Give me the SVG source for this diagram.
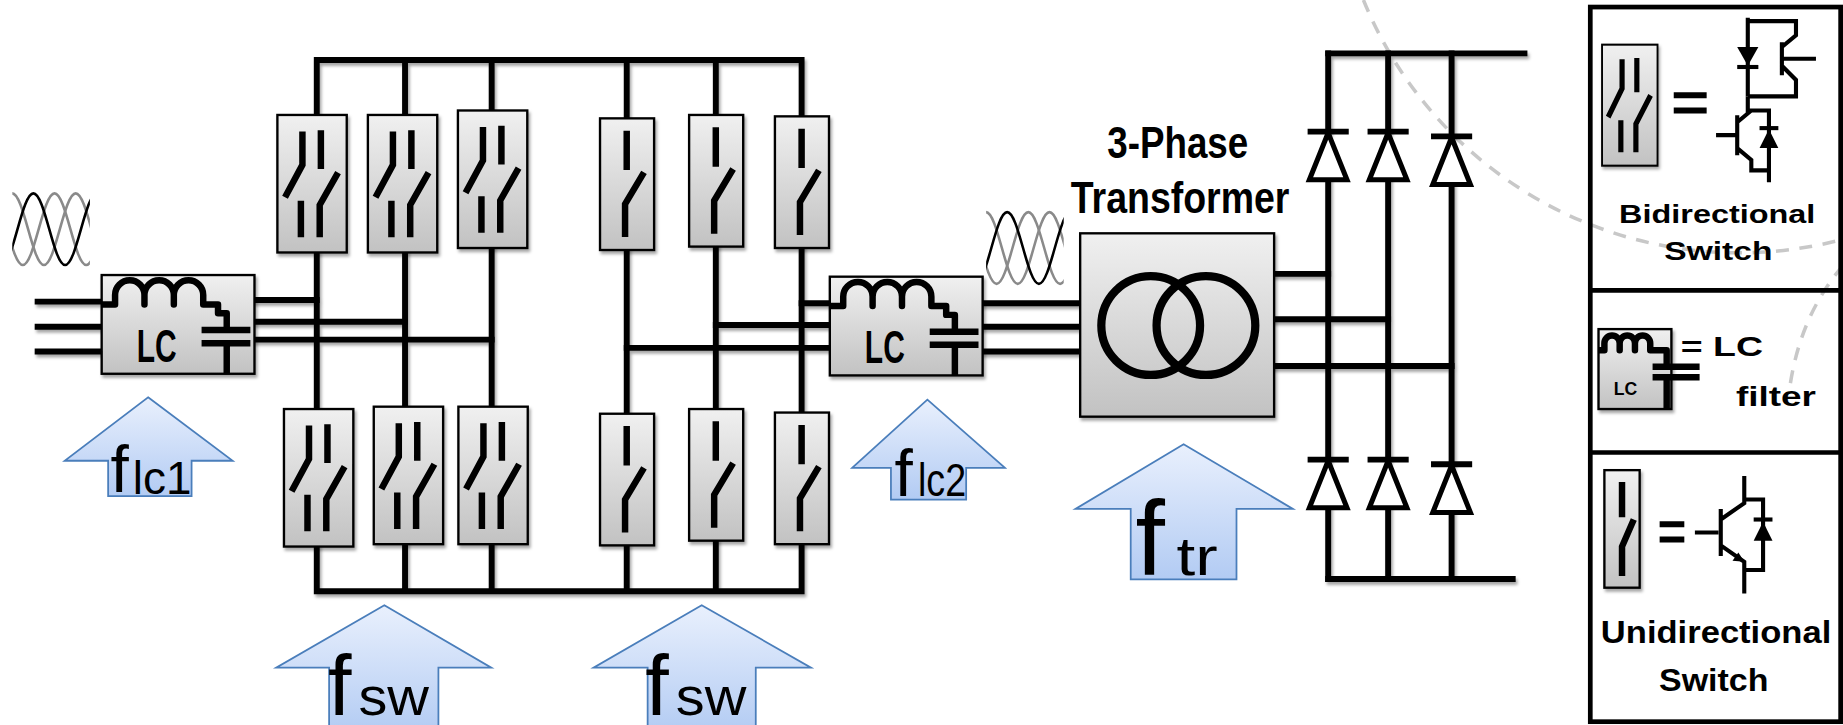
<svg xmlns="http://www.w3.org/2000/svg" width="1843" height="725" viewBox="0 0 1843 725">
<style>
.w{stroke:#000;stroke-width:5;fill:none;stroke-linecap:square}
.box{fill:url(#gBox);stroke:#000;stroke-width:2}
.bar{stroke:#000;stroke-width:5.5;fill:none;stroke-linecap:butt}
.lw{stroke:#000;stroke-width:5.5;fill:none;stroke-linejoin:round}
.arr{fill:url(#gArr);stroke:#4a7ebb;stroke-width:1.5}
.sf{font-family:"Liberation Sans",Arial,sans-serif;fill:#000}
.bf{font-family:"Liberation Sans",Arial,sans-serif;font-weight:bold;fill:#000}
.dash{fill:none;stroke:#c8c8c8;stroke-width:3;stroke-dasharray:11 9}
.wave{fill:none;stroke-width:2.2}
.dio{fill:#fff;stroke:#000;stroke-width:4.3;stroke-linejoin:miter}
.th{stroke:#000;stroke-width:3.5;fill:none}
.frame{fill:none;stroke:#000;stroke-width:4}
</style>
<defs>
<linearGradient id="gBox" x1="0" y1="0" x2="0" y2="1"><stop offset="0" stop-color="#f0f0f0"/><stop offset="1" stop-color="#c2c2c2"/></linearGradient>
<linearGradient id="gArr" x1="0" y1="0" x2="0" y2="1"><stop offset="0" stop-color="#e9f0fd"/><stop offset="1" stop-color="#b2cbf3"/></linearGradient>
<filter id="sh" x="-20%" y="-20%" width="140%" height="140%"><feDropShadow dx="1.5" dy="2.5" stdDeviation="1.5" flood-color="#000" flood-opacity="0.35"/></filter>
<clipPath id="wc"><rect x="10.5" y="158" width="66" height="74"/></clipPath>
<g id="wave" clip-path="url(#wc)">
<path class="wave" stroke="#8a8a8a" d="M-7.6,164.5 C2.2,164.5 9.6,225.5 19.4,225.5 C29.2,225.5 36.6,164.5 46.4,164.5 C56.2,164.5 63.6,225.5 73.4,225.5 C83.2,225.5 90.6,164.5 100.4,164.5"/>
<path class="wave" stroke="#8a8a8a" d="M-16.6,225.5 C-6.8,225.5 0.6,164.5 10.4,164.5 C20.2,164.5 27.6,225.5 37.4,225.5 C47.2,225.5 54.6,164.5 64.4,164.5 C74.2,164.5 81.6,225.5 91.4,225.5"/>
<path class="wave" stroke="#000" d="M1.4,225.5 C11.2,225.5 18.6,164.5 28.4,164.5 C38.2,164.5 45.6,225.5 55.4,225.5 C65.2,225.5 72.6,164.5 82.4,164.5"/>
</g>
<g id="bidir">
<rect class="box" width="59" height="117" filter="url(#sh)"/>
<path class="bar" d="M21.3,14 V42.5 L6.5,70 M37,13 V46 M51.6,49 L36,76.6 V104 M20,73 V104"/>
</g>
<g id="uni">
<rect class="box" width="46" height="112" filter="url(#sh)"/>
<path class="bar" d="M22.7,10.5 V44 M37.4,46 L21.3,73 V101"/>
</g>
<g id="lc">
<rect class="box" width="130" height="84" filter="url(#sh)"/>
<path class="lw" d="M0,25 H11.4 V17 A12.5,12.5 0 0 1 36.4,17 V25 V17 A12.5,12.5 0 0 1 61.4,17 V25 V17 A12.5,12.5 0 0 1 86.4,17 V25 H99 V32.5 H106.4 V46.8"/>
<path class="lw" d="M85,46.8 H126.5 M85,58 H126.5 M106.4,58 V84"/>
<text class="bf" x="46.8" y="73.7" font-size="40" text-anchor="middle" textLength="34" lengthAdjust="spacingAndGlyphs">LC</text>
</g>
</defs>
<rect width="1843" height="725" fill="#fff"/>
<g transform="scale(1.17538)">

<g id="background-arcs">
<path class="dash" d="M1160,0 A345,345 0 0 0 1568,203.6"/>
<path class="dash" d="M1568,226 Q1530,270 1522,335"/>
</g>

<g id="source-wave"><use href="#wave"/></g>
<g id="output-wave"><use href="#wave" transform="translate(828.5,16)"/></g>

<g id="connectors" filter="url(#sh)">
<path class="w" d="M32,256.6 H86.5 M32,278 H86.5 M32,299 H86.5"/>
<path class="w" d="M217,255.2 H269.5 M217,273.7 H344.6 M217,289 H418.3"/>
<path class="w" d="M269.5,97.8 V51 H682 V99 M344.6,51 V97.8 M418.3,51 V94 M533.2,51 V100.7 M609,51 V97.8"/>
<path class="w" d="M269.5,214.8 V348 M344.6,214.8 V346 M418.3,211 V346 M533.2,212.7 V352 M609,209.8 V348 M682,211 V351"/>
<path class="w" d="M269.5,465 V503 H682 V463 M344.6,463 V503 M418.3,463 V503 M533.2,464 V503 M609,460 V503"/>
<path class="w" d="M682,258 H706 M609,276.5 H706 M533.2,296 H706"/>
<path class="w" d="M836,258 H919 M836,278 H919 M836,299 H919"/>
<path class="w" d="M1084,233 H1130 M1084,271.6 H1181 M1084,311.4 H1235"/>
<path class="w" d="M1130,45.4 H1297 M1130,492.6 H1287"/>
<path class="w" d="M1130,45.4 V112 M1181,45.4 V112 M1235,45.4 V116 M1130,153 V391 M1181,153 V391 M1235,157 V395 M1130,432 V492.6 M1181,432 V492.6 M1235,436 V492.6"/>
</g>

<g id="lc1"><use href="#lc" transform="translate(86.5,234)"/></g>
<g id="lc2"><use href="#lc" transform="translate(706,235.4)"/></g>

<g id="sw-b1"><use href="#bidir" transform="translate(236,97.8)"/></g>
<g id="sw-b2"><use href="#bidir" transform="translate(313,97.8)"/></g>
<g id="sw-b3"><use href="#bidir" transform="translate(389.6,94)"/></g>
<g id="sw-b4"><use href="#bidir" transform="translate(241.6,348)"/></g>
<g id="sw-b5"><use href="#bidir" transform="translate(318,346)"/></g>
<g id="sw-b6"><use href="#bidir" transform="translate(390,346)"/></g>
<g id="sw-u1"><use href="#uni" transform="translate(510.5,100.7)"/></g>
<g id="sw-u2"><use href="#uni" transform="translate(586.3,97.8)"/></g>
<g id="sw-u3"><use href="#uni" transform="translate(659.3,99)"/></g>
<g id="sw-u4"><use href="#uni" transform="translate(510.5,352)"/></g>
<g id="sw-u5"><use href="#uni" transform="translate(586.3,348)"/></g>
<g id="sw-u6"><use href="#uni" transform="translate(659.3,351)"/></g>

<g id="transformer">
<text class="bf" x="1002" y="134.7" font-size="37" text-anchor="middle" textLength="120" lengthAdjust="spacingAndGlyphs">3-Phase</text>
<text class="bf" x="1004" y="181.5" font-size="37" text-anchor="middle" textLength="186" lengthAdjust="spacingAndGlyphs">Transformer</text>
<rect class="box" x="919" y="198.5" width="165" height="156" filter="url(#sh)"/>
<circle cx="979" cy="277" r="42" fill="none" stroke="#000" stroke-width="7"/>
<circle cx="1026" cy="277" r="42" fill="none" stroke="#000" stroke-width="7"/>
</g>

<g id="diode-bridge">
<path class="w" d="M1115,112 H1145 M1166,112 H1196 M1220,116 H1250 M1115,391 H1145 M1166,391 H1196 M1220,395 H1250"/>
<path class="dio" d="M1130,113 L1146,153 H1114 Z M1181,113 L1197,153 H1165 Z M1235,117 L1251,157 H1219 Z M1130,392 L1146,432 H1114 Z M1181,392 L1197,432 H1165 Z M1235,396 L1251,436 H1219 Z"/>
</g>

<g id="arrow-flc1">
<path class="arr" d="M126,338 L198,392 H163 V422 H92 V392 H55 Z"/>
<text class="sf" x="94" y="419" font-size="56">f</text>
<text class="sf" x="113" y="420" font-size="40" textLength="50" lengthAdjust="spacingAndGlyphs">lc1</text>
</g>
<g id="arrow-flc2">
<path class="arr" d="M789,340 L855,398 H822 V425 H758 V398 H725 Z"/>
<text class="sf" x="761" y="422" font-size="56">f</text>
<text class="sf" x="781" y="422" font-size="40" textLength="41" lengthAdjust="spacingAndGlyphs">lc2</text>
</g>
<g id="arrow-ftr">
<path class="arr" d="M1007,378 L1100,433 H1052 V493 H962 V433 H915 Z"/>
<text class="sf" x="966" y="489" font-size="90">f</text>
<text class="sf" x="1001" y="489" font-size="46" textLength="35" lengthAdjust="spacingAndGlyphs">tr</text>
</g>
<g id="arrow-fsw1">
<path class="arr" d="M327,515 L418,568 H373 V625 H280 V568 H235 Z"/>
<text class="sf" x="279" y="608" font-size="72">f</text>
<text class="sf" x="305" y="608" font-size="46" textLength="60" lengthAdjust="spacingAndGlyphs">sw</text>
</g>
<g id="arrow-fsw2">
<path class="arr" d="M597,515 L690,568 H643 V625 H551 V568 H505 Z"/>
<text class="sf" x="549" y="608" font-size="72">f</text>
<text class="sf" x="575" y="608" font-size="46" textLength="60" lengthAdjust="spacingAndGlyphs">sw</text>
</g>

<g id="legend">
<rect class="frame" x="1353" y="6" width="213" height="608"/>
<path class="frame" d="M1353,247 H1566 M1353,385 H1566"/>
<g id="legend-bidir">
<use href="#bidir" transform="translate(1363,38) scale(0.8,0.88)"/>
<path stroke="#000" stroke-width="5" d="M1424,81 H1452 M1424,94 H1452"/>
<path class="th" d="M1487,15 V82 M1487,18 H1528 V30 L1516,40 M1516,36 V64 M1516,56 L1528,68 V82 H1487 M1516,50 H1545"/>
<path d="M1478,40 H1496 L1487,56 Z" fill="#000"/>
<path class="th" d="M1478,57 H1496"/>
<path class="th" d="M1487,82 V94 H1505 V155 M1505,94 H1490 L1478,104 M1478,98 V132 M1478,126 L1490,136 V145 H1505 M1478,115 H1460"/>
<path d="M1497,126 H1513 L1505,110 Z" fill="#000"/>
<path class="th" d="M1497,109 H1513"/>
<text class="bf" x="1461" y="190" font-size="22" text-anchor="middle" textLength="167" lengthAdjust="spacingAndGlyphs">Bidirectional</text>
<text class="bf" x="1462" y="221" font-size="22" text-anchor="middle" textLength="92" lengthAdjust="spacingAndGlyphs">Switch</text>
</g>
<g id="legend-lc">
<rect class="box" x="1360" y="280" width="62" height="68" filter="url(#sh)"/>
<path class="lw" stroke-width="4" d="M1360,298 H1365 V292 A6.5,6.5 0 0 1 1378,292 V298 V292 A6.5,6.5 0 0 1 1391,292 V298 V292 A6.5,6.5 0 0 1 1404,292 V298 H1418 V312"/>
<path class="lw" stroke-width="4" d="M1406,312 H1446 M1406,321 H1446 M1418,321 V348"/>
<text class="bf" x="1383" y="336" font-size="15" text-anchor="middle">LC</text>
<text class="bf" x="1465" y="303" font-size="24" text-anchor="middle" textLength="70" lengthAdjust="spacingAndGlyphs">= LC</text>
<text class="bf" x="1511" y="345" font-size="24" text-anchor="middle" textLength="68" lengthAdjust="spacingAndGlyphs">filter</text>
</g>
<g id="legend-uni">
<rect class="box" x="1365" y="400" width="30" height="100" filter="url(#sh)"/>
<path class="bar" stroke-width="4.5" d="M1380,410 V440 M1390,442 L1380,465 V490"/>
<path stroke="#000" stroke-width="5" d="M1412,446 H1433 M1412,459 H1433"/>
<path class="th" d="M1442,453 H1462 M1464,433 V473 M1464,442 L1484,428 V405 M1464,464 L1484,478 V505 M1484,425 H1500 V485 H1484"/>
<path d="M1492,460 H1508 L1500,444 Z" fill="#000"/>
<path class="th" d="M1492,442 H1508"/>
<path d="M1484,478 L1474,477 L1479,470 Z" fill="#000"/>
<text class="bf" x="1460" y="547" font-size="27" text-anchor="middle" textLength="196" lengthAdjust="spacingAndGlyphs">Unidirectional</text>
<text class="bf" x="1458" y="588" font-size="27" text-anchor="middle" textLength="93" lengthAdjust="spacingAndGlyphs">Switch</text>
</g>
</g>
</g>
</svg>
